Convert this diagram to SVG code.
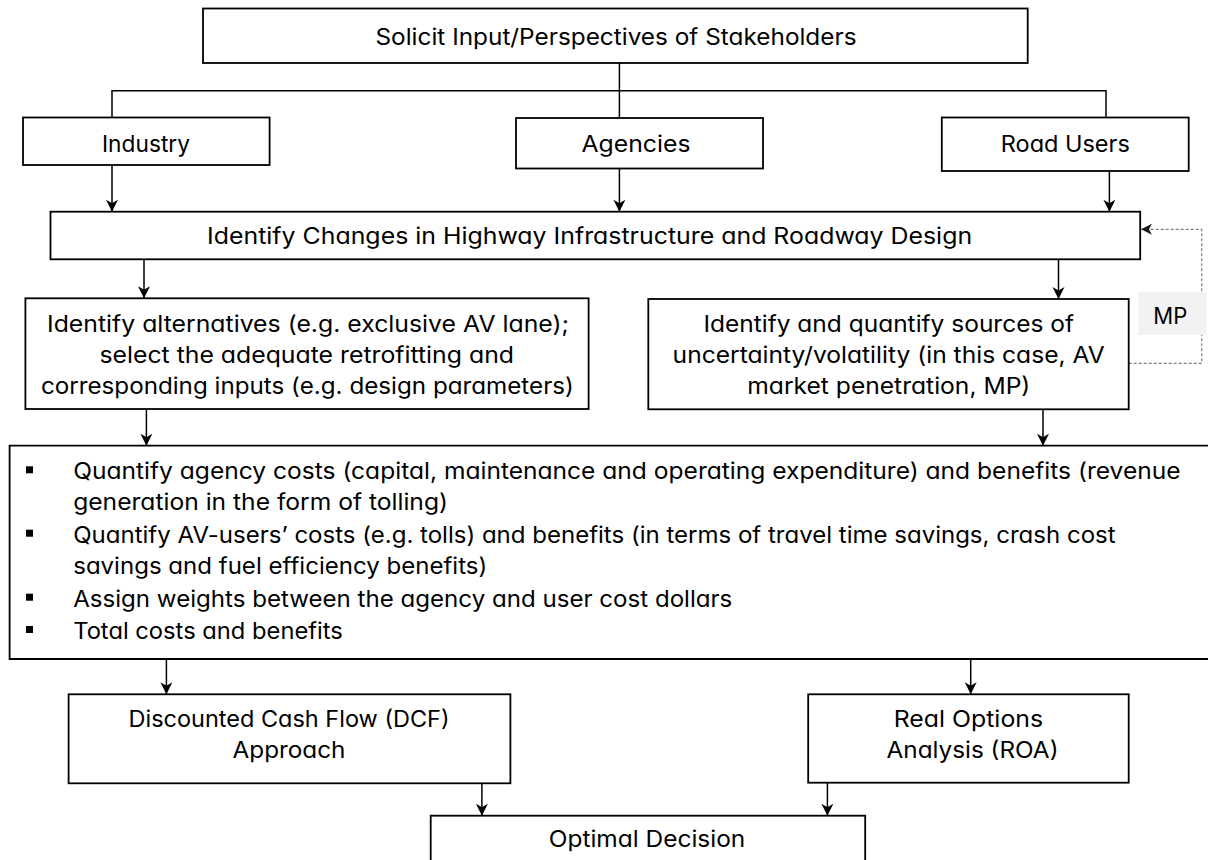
<svg xmlns="http://www.w3.org/2000/svg" width="1208" height="860" viewBox="0 0 1208 860">
  <style>
    .box { fill: #ffffff; stroke: #000000; stroke-width: 1.8; }
    .lbl { font-family: Inter, "Liberation Sans", sans-serif; font-size: 22.5px; fill: #000000; text-anchor: middle; font-feature-settings: "cv11"; }
    .lft { text-anchor: start; }
    .wire { fill: none; stroke: #000000; stroke-width: 1.5; }
    .arr { marker-end: url(#head); }
    .dash { fill: none; stroke: #808080; stroke-width: 1.2; stroke-dasharray: 3 2; marker-end: url(#headDash); }
    .tag { fill: #f2f2f2; stroke: none; }
  </style>
  <defs>
    <marker id="head" markerUnits="userSpaceOnUse" markerWidth="14" markerHeight="14" refX="12" refY="6" orient="auto">
      <path d="M0,0 L12,6 L0,12 L3.5,6 Z" fill="#000000"/>
    </marker>
    <marker id="headDash" markerUnits="userSpaceOnUse" markerWidth="14" markerHeight="14" refX="11" refY="5.5" orient="auto">
      <path d="M0,0 L11,5.5 L0,11 L3,5.5 Z" fill="#1a1a1a"/>
    </marker>
  </defs>

  <rect width="1208" height="860" fill="#ffffff"/>

  <!-- connectors -->
  <g id="connectors">
    <path class="wire" d="M619.4,63 V118"/>
    <path class="wire" d="M112,118 V90.7 H1106 V118"/>
    <path class="wire arr" d="M112,165 V211.7"/>
    <path class="wire arr" d="M619.4,168.5 V211.7"/>
    <path class="wire arr" d="M1109.4,171 V211.7"/>
    <path class="wire arr" d="M144,259.3 V298.3"/>
    <path class="wire arr" d="M1058.5,259.3 V299"/>
    <path class="wire arr" d="M146.4,409 V445.7"/>
    <path class="wire arr" d="M1043,409.3 V445.7"/>
    <path class="wire arr" d="M166.4,659 V694.3"/>
    <path class="wire arr" d="M970.7,659 V694.3"/>
    <path class="wire arr" d="M481.9,783.3 V815.7"/>
    <path class="wire arr" d="M827.4,782.7 V815.7"/>
    <path class="dash" d="M1128.7,363.3 H1201.7 V229.3 H1141"/>
  </g>

  <g id="stakeholders">
    <rect class="box" x="203" y="8.5" width="824.7" height="54.5"/>
    <text class="lbl" x="616" y="45" textLength="481" lengthAdjust="spacingAndGlyphs">Solicit Input/Perspectives of Stakeholders</text>
  </g>

  <g id="industry">
    <rect class="box" x="23" y="117.5" width="246.6" height="47.5"/>
    <text class="lbl" x="146" y="151.7" textLength="88" lengthAdjust="spacingAndGlyphs">Industry</text>
  </g>

  <g id="agencies">
    <rect class="box" x="516" y="118" width="247" height="50.5"/>
    <text class="lbl" x="636" y="151.7" textLength="109" lengthAdjust="spacingAndGlyphs">Agencies</text>
  </g>

  <g id="road-users">
    <rect class="box" x="941.8" y="117.5" width="246.9" height="53.5"/>
    <text class="lbl" x="1065.3" y="151.7" textLength="129" lengthAdjust="spacingAndGlyphs">Road Users</text>
  </g>

  <g id="changes">
    <rect class="box" x="50.5" y="211.7" width="1089.7" height="47.6"/>
    <text class="lbl" x="589.6" y="244" textLength="765" lengthAdjust="spacingAndGlyphs">Identify Changes in Highway Infrastructure and Roadway Design</text>
  </g>

  <g id="alternatives">
    <rect class="box" x="25.4" y="298.3" width="563.2" height="110.7"/>
    <text class="lbl" x="308" y="331.7" textLength="522" lengthAdjust="spacingAndGlyphs">Identify alternatives (e.g. exclusive AV lane);</text>
    <text class="lbl" x="306.7" y="362.7" textLength="414.6" lengthAdjust="spacingAndGlyphs">select the adequate retrofitting and</text>
    <text class="lbl" x="307.4" y="394" textLength="533" lengthAdjust="spacingAndGlyphs">corresponding inputs (e.g. design parameters)</text>
  </g>

  <g id="uncertainty">
    <rect class="box" x="648.3" y="299" width="480.4" height="110.3"/>
    <text class="lbl" x="888.7" y="331.7" textLength="370.6" lengthAdjust="spacingAndGlyphs">Identify and quantify sources of</text>
    <text class="lbl" x="888.7" y="362.7" textLength="432.2" lengthAdjust="spacingAndGlyphs">uncertainty/volatility (in this case, AV</text>
    <text class="lbl" x="888.8" y="393.5" textLength="283.1" lengthAdjust="spacingAndGlyphs">market penetration, MP)</text>
  </g>

  <g id="mp-label">
    <rect class="tag" x="1138.3" y="291.7" width="68.4" height="43.3"/>
    <text class="lbl" x="1170.3" y="324" textLength="34" lengthAdjust="spacingAndGlyphs">MP</text>
  </g>

  <g id="costs-benefits">
    <path class="box" d="M1212,445.7 H9.6 V659 H1212"/>
    <rect x="26" y="466.3" width="7" height="7" fill="#000000"/>
    <rect x="26" y="529.7" width="7" height="7" fill="#000000"/>
    <rect x="26" y="593.7" width="7" height="7" fill="#000000"/>
    <rect x="26" y="626" width="7" height="7" fill="#000000"/>
    <text class="lbl lft" x="73.2" y="479.3" textLength="1107.4" lengthAdjust="spacingAndGlyphs">Quantify agency costs (capital, maintenance and operating expenditure) and benefits (revenue</text>
    <text class="lbl lft" x="73.2" y="510" textLength="374.8" lengthAdjust="spacingAndGlyphs">generation in the form of tolling)</text>
    <text class="lbl lft" x="73.2" y="542.7" textLength="1042.4" lengthAdjust="spacingAndGlyphs">Quantify AV-users’ costs (e.g. tolls) and benefits (in terms of travel time savings, crash cost</text>
    <text class="lbl lft" x="73.2" y="574" textLength="414.1" lengthAdjust="spacingAndGlyphs">savings and fuel efficiency benefits)</text>
    <text class="lbl lft" x="73.2" y="606.7" textLength="659.1" lengthAdjust="spacingAndGlyphs">Assign weights between the agency and user cost dollars</text>
    <text class="lbl lft" x="73.2" y="639" textLength="269.6" lengthAdjust="spacingAndGlyphs">Total costs and benefits</text>
  </g>

  <g id="dcf">
    <rect class="box" x="68.6" y="694.3" width="441.8" height="89"/>
    <text class="lbl" x="289" y="727.3" textLength="321" lengthAdjust="spacingAndGlyphs">Discounted Cash Flow (DCF)</text>
    <text class="lbl" x="289" y="758.3" textLength="113" lengthAdjust="spacingAndGlyphs">Approach</text>
  </g>

  <g id="roa">
    <rect class="box" x="808.2" y="694.3" width="320.5" height="88.4"/>
    <text class="lbl" x="968.4" y="727.3" textLength="149.3" lengthAdjust="spacingAndGlyphs">Real Options</text>
    <text class="lbl" x="972.5" y="758.3" textLength="172" lengthAdjust="spacingAndGlyphs">Analysis (ROA)</text>
  </g>

  <g id="optimal-decision">
    <rect class="box" x="430.7" y="815.7" width="434.5" height="60"/>
    <text class="lbl" x="647" y="847.3" textLength="196.5" lengthAdjust="spacingAndGlyphs">Optimal Decision</text>
  </g>
</svg>
